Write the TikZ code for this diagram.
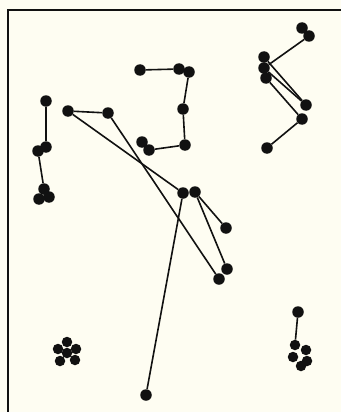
\documentclass[tikz,border=0pt]{standalone}
\definecolor{bg}{HTML}{FEFDF2}
\definecolor{ink}{HTML}{111111}
\begin{document}
\begin{tikzpicture}[x=1pt,y=-1pt,
  dot/.style={circle,fill=ink,inner sep=0pt,minimum size=11.5pt},
  sdot/.style={circle,fill=ink,inner sep=0pt,minimum size=10.5pt},
  link/.style={draw=ink,line width=1.6pt}]
\fill[bg] (0,0) rectangle (341,412);
\useasboundingbox (0,0) rectangle (341,412);
\draw[ink,line width=2.2pt] (8,412) -- (8,10) -- (341,10);
% left vertical group
\node[dot] (a1) at (46,101) {};
\node[dot] (a2) at (46,147) {};
\node[dot] (a3) at (38,151) {};
\node[dot] (a4) at (44,189) {};
\node[dot] (a5) at (49,197) {};
\node[dot] (a6) at (39,199) {};
% crossing group
\node[dot] (b1) at (68,111) {};
\node[dot] (b2) at (108,113) {};
\node[dot] (c1) at (183,193) {};
\node[dot] (c2) at (195,192) {};
\node[dot] (c3) at (226,228) {};
\node[dot] (c4) at (227,269) {};
\node[dot] (c5) at (219,279) {};
\node[dot] (d) at (146,395) {};
% bracket group
\node[dot] (e1) at (140,70) {};
\node[dot] (e2) at (179,69) {};
\node[dot] (e3) at (189,72) {};
\node[dot] (e4) at (183,109) {};
\node[dot] (e5) at (185,145) {};
\node[dot] (e6) at (142,142) {};
\node[dot] (e7) at (149,150) {};
% right zigzag
\node[dot] (f1) at (302,28) {};
\node[dot] (f2) at (309,36) {};
\node[dot] (f3) at (264,57) {};
\node[dot] (f4) at (264,68) {};
\node[dot] (f5) at (266,78) {};
\node[dot] (f6) at (306,105) {};
\node[dot] (f7) at (302,119) {};
\node[dot] (f8) at (267,148) {};
% flower
\node[sdot] (g0) at (67,353) {};
\node[sdot] (g1) at (67,342) {};
\node[sdot] (g2) at (58,349) {};
\node[sdot] (g3) at (76,349) {};
\node[sdot] (g4) at (60,361) {};
\node[sdot] (g5) at (75,360) {};
% bottom right
\node[dot] (h1) at (298,312) {};
\node[sdot] (h2) at (295,345) {};
\node[sdot] (h3) at (306,350) {};
\node[sdot] (h4) at (293,357) {};
\node[sdot] (h5) at (307,361) {};
\node[sdot] (h6) at (301,366) {};
% connectors
\draw[link] (a1) -- (a2);
\draw[link] (a3) -- (a4);
\draw[link] (b1) -- (b2);
\draw[link] (b1) -- (c1);
\draw[link] (b2) -- (c5);
\draw[link] (c1) -- (c2);
\draw[link] (c2) -- (c3);
\draw[link] (c2) -- (c4);
\draw[link] (c1) -- (d);
\draw[link] (e1) -- (e2);
\draw[link] (e3) -- (e4);
\draw[link] (e4) -- (e5);
\draw[link] (e7) -- (e5);
\draw[link] (f2) -- (f4);
\draw[link] (f3) -- (f6);
\draw[link] (f4) -- (f6);
\draw[link] (f5) -- (f7);
\draw[link] (f7) -- (f8);
\draw[link] (h1) -- (h2);
\end{tikzpicture}
\end{document}
